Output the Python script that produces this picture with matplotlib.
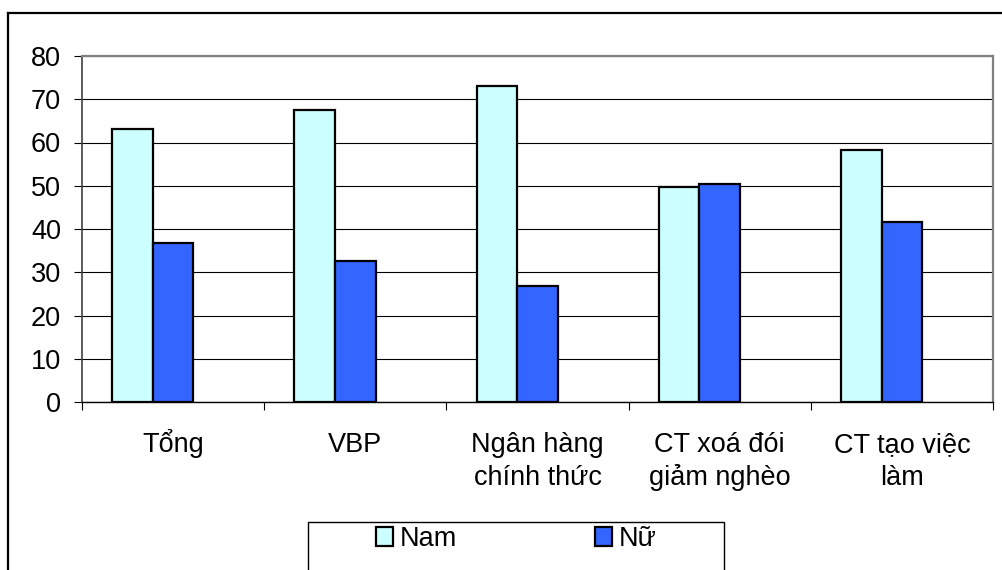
import numpy as np
import matplotlib.pyplot as plt
import matplotlib.transforms as mtransforms
from matplotlib.patches import Patch, Rectangle
from matplotlib.lines import Line2D

plt.rcParams['font.family'] = ['Liberation Sans', 'DejaVu Sans']
plt.rcParams['font.size'] = 19.5

nhom = ['Tổng', 'VBP', 'Ngân hàng\nchính thức', 'CT xoá đói\ngiảm nghèo', 'CT tạo việc\nlàm']
nam = [63.2, 67.4, 73.1, 49.7, 58.3]
nu = [36.8, 32.6, 26.9, 50.3, 41.7]

W, H = 1003, 570
fig = plt.figure(figsize=(W / 100, H / 100), dpi=100)
ax = fig.add_axes([82 / W, (H - 402) / H, 911 / W, 346 / H])

x = np.arange(len(nhom))
w = 0.2225
ax.bar(x - w, nam, w, align='center', color='#CCFFFF', edgecolor='black', linewidth=1.6, zorder=3)
ax.bar(x, nu, w, align='center', color='#3366FF', edgecolor='black', linewidth=1.6, zorder=3)

ax.set_xlim(-0.5, len(nhom) - 0.5)
ax.set_ylim(0, 80)
ax.set_yticks(range(0, 81, 10))
ax.yaxis.grid(True, color='black', linewidth=0.8)
ax.set_axisbelow(True)

ax.set_xticks([])
ax.set_xticks(np.arange(-0.5, len(nhom)), minor=True)
ax.tick_params(axis='x', which='minor', length=6, width=0.8, direction='out')
ax.tick_params(axis='y', length=6, width=0.8, direction='out', pad=9)

# nhãn nhóm: mỗi dòng đặt theo đường chân chữ riêng
trans = mtransforms.blended_transform_factory(ax.transData, fig.transFigure)
for xi, ten in zip(x, nhom):
    for k, dong in enumerate(ten.split('\n')):
        ax.text(xi, (H - 452 - 33 * k) / H, dong, transform=trans,
                ha='center', va='baseline', fontsize=19.5)

for s in ['top', 'right']:
    ax.spines[s].set_color('#808080')
    ax.spines[s].set_linewidth(1.6)
ax.spines['left'].set_color('#404040')
ax.spines['left'].set_linewidth(1.2)
ax.spines['bottom'].set_color('black')
ax.spines['bottom'].set_linewidth(1.0)

# khung ngoài của biểu đồ
fig.add_artist(Line2D([8 / W, 8 / W], [-0.1, (H - 13) / H], color='black', linewidth=1.6))
fig.add_artist(Line2D([8 / W, 1.1], [(H - 13) / H, (H - 13) / H], color='black', linewidth=1.6))

# chú thích
fig.add_artist(Rectangle((308 / W, -0.1), (724 - 308) / W, 0.1 + (H - 522) / H,
                         transform=fig.transFigure, fill=False, edgecolor='black', linewidth=1.0))
handles = [Patch(facecolor='#CCFFFF', edgecolor='black', linewidth=1.6, label='Nam'),
           Patch(facecolor='#3366FF', edgecolor='black', linewidth=1.6, label='Nữ')]
fig.legend(handles=handles, loc='center', bbox_to_anchor=(516 / W, 31 / H), ncol=2,
           frameon=False, handlelength=0.65, handleheight=0.65, handletextpad=0.22,
           columnspacing=5.1, borderpad=0, fontsize=19.5)

fig.savefig('out.png', dpi=100)
